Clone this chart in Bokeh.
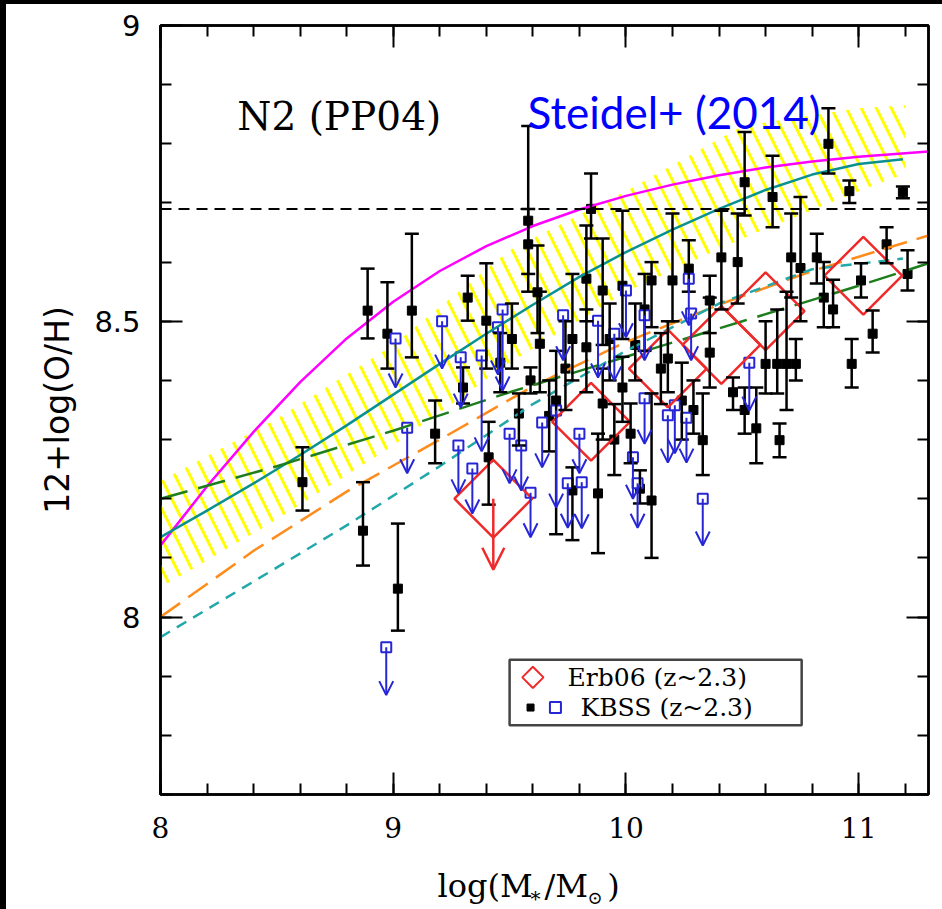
import numpy as np
from bokeh.plotting import figure
from bokeh.layouts import row, column
from bokeh.models import (ColumnDataSource, Whisker, TeeHead, Arrow, OpenHead, Label,
                          BoxAnnotation, LinearAxis, SingleIntervalTicker, Range1d, Span,
                          CustomJSTickFormatter, Spacer)
from bokeh.core.properties import value
from bokeh.embed import file_html
from bokeh.resources import INLINE

# ---------------- data ----------------
# hatched band (Steidel+14 local relation range)
band_x = [8.0, 8.5, 9.0, 9.5, 10.0, 10.5, 11.0, 11.2]
band_lo = [8.05, 8.165, 8.29, 8.43, 8.55, 8.64, 8.72, 8.75]
band_hi = [8.23, 8.335, 8.46, 8.62, 8.72, 8.83, 8.86, 8.865]

# magenta solid curve
mag_x = [8.0, 8.2, 8.4, 8.6, 8.8, 9.0, 9.2, 9.4, 9.6, 9.8, 10.0, 10.2, 10.4, 10.6, 10.8, 11.0, 11.2, 11.3]
mag_y = [8.121, 8.221, 8.313, 8.397, 8.471, 8.533, 8.585, 8.627, 8.661, 8.689, 8.712, 8.731, 8.747, 8.760,
         8.770, 8.778, 8.784, 8.787]

# teal solid curve
teal_x = [8.0, 8.2, 8.4, 8.6, 8.8, 9.0, 9.2, 9.4, 9.6, 9.8, 10.0, 10.2, 10.4, 10.6, 10.8, 11.0, 11.19]
teal_y = [8.135, 8.18, 8.226, 8.274, 8.324, 8.376, 8.428, 8.479, 8.528, 8.575, 8.617, 8.655, 8.69, 8.722,
          8.748, 8.766, 8.774]

# orange long-dashed curve
orange_x = [8.0, 8.4, 8.8, 9.2, 9.6, 10.0, 10.4, 10.8, 11.3]
orange_y = [8.0, 8.112, 8.212, 8.30, 8.39, 8.465, 8.528, 8.585, 8.645]

# teal short-dashed curve
tdash_x = [8.0, 8.4, 8.8, 9.2, 9.6, 10.0, 10.4, 10.8, 11.19]
tdash_y = [7.966, 8.06, 8.155, 8.255, 8.36, 8.45, 8.53, 8.588, 8.606]

# green long-dashed curve
green_x = [8.0, 8.5, 9.0, 9.5, 10.0, 10.5, 11.0, 11.3]
green_y = [8.20, 8.255, 8.315, 8.38, 8.44, 8.50, 8.56, 8.598]

solar_oh = 8.69

# KBSS detections (black squares with error bars)
kbss_x = [8.61, 8.87, 8.89, 8.975, 9.02, 9.08, 9.18, 9.30, 9.32, 9.40, 9.41, 9.46, 9.51, 9.54, 9.58, 9.58,
          9.59, 9.62, 9.63, 9.67, 9.70, 9.74, 9.77, 9.77, 9.83, 9.83, 9.85, 9.88, 9.90, 9.90, 9.93, 9.95,
          9.985, 9.985, 10.02, 10.04, 10.06, 10.08, 10.11, 10.11, 10.15, 10.18, 10.20, 10.24, 10.27, 10.29,
          10.33, 10.36, 10.36, 10.41, 10.46, 10.48, 10.51, 10.51, 10.56, 10.60, 10.63, 10.65, 10.66, 10.69,
          10.71, 10.73, 10.75, 10.82, 10.85, 10.87, 10.89, 10.96, 10.97, 11.01, 11.06, 11.12, 11.19, 11.21]
kbss_y = [8.228, 8.146, 8.518, 8.479, 8.048, 8.518, 8.310, 8.388, 8.540, 8.501, 8.270, 8.430, 8.470, 8.344,
          8.670, 8.630, 8.400, 8.549, 8.462, 8.340, 8.366, 8.420, 8.470, 8.214, 8.572, 8.456, 8.690, 8.209,
          8.552, 8.361, 8.470, 8.300, 8.560, 8.388, 8.310, 8.460, 8.217, 8.520, 8.197, 8.569, 8.420, 8.437,
          8.569, 8.366, 8.589, 8.350, 8.299, 8.447, 8.535, 8.608, 8.380, 8.600, 8.350, 8.735, 8.319, 8.428,
          8.710, 8.428, 8.299, 8.428, 8.608, 8.428, 8.590, 8.608, 8.540, 8.800, 8.520, 8.720, 8.428, 8.569,
          8.479, 8.630, 8.718, 8.580]
kbss_lo = [8.180, 8.087, 8.471, 8.420, 7.977, 8.439, 8.260, 8.361, 8.501, 8.420, 8.190, 8.380, 8.420, 8.290,
           8.580, 8.550, 8.378, 8.480, 8.380, 8.280, 8.140, 8.350, 8.400, 8.130, 8.500, 8.380, 8.640, 8.108,
           8.460, 8.300, 8.400, 8.240, 8.470, 8.330, 8.260, 8.400, 8.192, 8.450, 8.100, 8.490, 8.360, 8.380,
           8.500, 8.300, 8.550, 8.310, 8.240, 8.388, 8.480, 8.520, 8.350, 8.530, 8.310, 8.679, 8.260, 8.378,
           8.659, 8.378, 8.270, 8.350, 8.540, 8.400, 8.500, 8.564, 8.490, 8.750, 8.490, 8.700, 8.388, 8.540,
           8.447, 8.598, 8.708, 8.552]
kbss_hi = [8.287, 8.228, 8.589, 8.566, 8.158, 8.648, 8.366, 8.422, 8.577, 8.598, 8.330, 8.480, 8.530, 8.378,
           8.830, 8.690, 8.422, 8.628, 8.550, 8.400, 8.450, 8.500, 8.580, 8.253, 8.662, 8.520, 8.750, 8.310,
           8.640, 8.420, 8.530, 8.360, 8.687, 8.440, 8.361, 8.530, 8.248, 8.580, 8.378, 8.600, 8.480, 8.500,
           8.682, 8.430, 8.637, 8.400, 8.378, 8.540, 8.577, 8.687, 8.405, 8.682, 8.388, 8.820, 8.388, 8.500,
           8.780, 8.520, 8.327, 8.550, 8.682, 8.470, 8.710, 8.648, 8.600, 8.860, 8.570, 8.738, 8.470, 8.598,
           8.518, 8.659, 8.728, 8.620]

# KBSS upper limits (blue open squares with arrows)
lim_x = [8.97, 9.01, 9.06, 9.21, 9.28, 9.29, 9.34, 9.38, 9.45, 9.47, 9.50, 9.55, 9.59, 9.64, 9.70, 9.73,
         9.75, 9.80, 9.81, 9.88, 9.95, 10.00, 10.03, 10.05, 10.08, 10.08, 10.18, 10.21, 10.26, 10.27, 10.28,
         10.33, 10.53]
lim_y = [7.949, 8.471, 8.320, 8.500, 8.290, 8.439, 8.251, 8.442, 8.490, 8.520, 8.310, 8.290, 8.210, 8.329,
         8.349, 8.510, 8.226, 8.310, 8.228, 8.501, 8.479, 8.552, 8.270, 8.226, 8.510, 8.370, 8.341, 8.358,
         8.337, 8.572, 8.513, 8.200, 8.430]
lim_end = [7.868, 8.388, 8.243, 8.420, 8.209, 8.354, 8.175, 8.280, 8.410, 8.383, 8.226, 8.214, 8.135, 8.253,
           8.185, 8.434, 8.151, 8.243, 8.150, 8.405, 8.400, 8.473, 8.200, 8.151, 8.434, 8.293, 8.261, 8.277,
           8.261, 8.493, 8.434, 8.121, 8.349]

# Erb06 stacks (red diamonds); first one is an upper limit
erb_x = [9.43, 9.85, 10.18, 10.41, 10.60, 11.02]
erb_y = [8.20, 8.33, 8.42, 8.46, 8.517, 8.577]
erb_lim_x = [9.43]
erb_lim_y = [8.20]
erb_lim_end = [8.08]

# tick settings
x_major = 1.0
y_major = 0.5

# ---------------- figure ----------------
BLUE = "#2626D6"
RED = "#EE2A2A"
W = 936

p = figure(width=W, height=855, output_backend="svg", toolbar_location=None,
           x_range=Range1d(8.0, 11.3), y_range=Range1d(7.7, 9.0),
           min_border_left=154, min_border_right=14, min_border_top=21, min_border_bottom=65)
p.grid.visible = False
p.outline_line_color = "black"
p.outline_line_width = 2.5
p.background_fill_color = "white"
p.border_fill_color = "white"

fmt = CustomJSTickFormatter(code="return tick.toString();")
blank = CustomJSTickFormatter(code="return '';")

def style_axis(ax, ticker, labels=True):
    ax.ticker = ticker
    ax.axis_line_color = "black"
    ax.axis_line_width = 2.5
    ax.major_tick_in = 22
    ax.major_tick_out = 0
    ax.minor_tick_in = 11
    ax.minor_tick_out = 0
    ax.major_tick_line_width = 2
    ax.minor_tick_line_width = 2
    ax.major_tick_line_color = "black"
    ax.minor_tick_line_color = "black"
    ax.formatter = fmt if labels else blank
    if not labels:
        ax.major_label_standoff = 0
        ax.major_label_text_font_size = "10px"

xt = SingleIntervalTicker(interval=x_major, num_minor_ticks=5)
yt = SingleIntervalTicker(interval=y_major, num_minor_ticks=5)

style_axis(p.xaxis[0], xt)
style_axis(p.yaxis[0], yt)
p.xaxis.major_label_text_font = "DejaVu Serif"
p.xaxis.major_label_text_font_size = "28px"
p.xaxis.major_label_text_color = "black"
p.xaxis.major_label_standoff = 22
p.yaxis.major_label_text_font = "DejaVu Sans"
p.yaxis.major_label_text_font_size = "29px"
p.yaxis.major_label_text_color = "black"
p.yaxis.major_label_standoff = 20
p.yaxis.axis_label = "12+log(O/H)"
p.yaxis.axis_label_text_font = "DejaVu Sans"
p.yaxis.axis_label_text_font_size = "33px"
p.yaxis.axis_label_text_font_style = "normal"
p.yaxis.axis_label_text_color = "black"
p.yaxis.axis_label_standoff = 14

top = LinearAxis()
style_axis(top, SingleIntervalTicker(interval=x_major, num_minor_ticks=5), labels=False)
p.add_layout(top, "above")
right = LinearAxis()
style_axis(right, SingleIntervalTicker(interval=y_major, num_minor_ticks=5), labels=False)
p.add_layout(right, "right")

# hatched band
p.varea(x=band_x, y1=band_lo, y2=band_hi, fill_alpha=0, hatch_pattern="left_diagonal_line",
        hatch_color="#FFFF00", hatch_scale=30, hatch_weight=3)

# solar line
p.add_layout(Span(location=solar_oh, dimension="width", line_color="black", line_width=2,
                  line_dash="11 7"))

# black points with error bars
ksrc = ColumnDataSource(dict(x=kbss_x, y=kbss_y, lo=kbss_lo, hi=kbss_hi))
wh = Whisker(source=ksrc, base="x", upper="hi", lower="lo", dimension="height",
             line_color="black", line_width=2.5, level="glyph",
             upper_head=TeeHead(size=14, line_width=2.5, line_color="black"),
             lower_head=TeeHead(size=14, line_width=2.5, line_color="black"))
p.add_layout(wh)
p.scatter("x", "y", source=ksrc, marker="square", size=9, fill_color="black", line_color="black")

# blue upper limits
lsrc = ColumnDataSource(dict(x=lim_x, y=lim_y, end=lim_end))
p.add_layout(Arrow(source=lsrc, x_start="x", y_start="y", x_end="x", y_end="end",
                   line_color=BLUE, line_width=2, level="glyph",
                   end=OpenHead(size=14, line_color=BLUE, line_width=2)))
p.scatter("x", "y", source=lsrc, marker="square", size=10, fill_color="white", line_color=BLUE,
          line_width=2)

# model curves
p.line(mag_x, mag_y, line_color="#FF00FF", line_width=2.5)
p.line(teal_x, teal_y, line_color="#0B9090", line_width=2.5)
p.line(orange_x, orange_y, line_color="#FF8C1A", line_width=2.5, line_dash="24 10")
p.line(tdash_x, tdash_y, line_color="#22A8A8", line_width=2.5, line_dash="11 8")
p.line(green_x, green_y, line_color="#1E7E1E", line_width=2.5, line_dash="28 11")

# Erb06 diamonds
p.scatter(erb_x, erb_y, marker="square", angle=np.pi / 4, size=55, fill_alpha=0,
          line_color=RED, line_width=2.5)
esrc = ColumnDataSource(dict(x=erb_lim_x, y=erb_lim_y, end=erb_lim_end))
p.add_layout(Arrow(source=esrc, x_start="x", y_start="y", x_end="x", y_end="end",
                   line_color=RED, line_width=2.5,
                   end=OpenHead(size=22, line_color=RED, line_width=2.5)))

# legend (drawn by hand)
p.add_layout(BoxAnnotation(left=9.50, right=10.755, bottom=7.817, top=7.928, fill_alpha=0,
                           line_color="#444444", line_width=2.5, line_alpha=1))
p.scatter([9.60], [7.898], marker="square", angle=np.pi / 4, size=15, fill_alpha=0,
          line_color=RED, line_width=2)
p.scatter([9.59], [7.847], marker="square", size=7, fill_color="black", line_color="black")
p.scatter([9.697], [7.847], marker="square", size=11, fill_color="white", line_color=BLUE, line_width=2)
for txt, lx, ly in [("Erb06 (z~2.3)", 9.749, 7.898), ("KBSS (z~2.3)", 9.805, 7.847)]:
    p.add_layout(Label(x=lx, y=ly, text=txt, text_font="DejaVu Serif", text_font_size="25px",
                       text_color="black", text_baseline="middle", text_align="left"))

# panel texts
p.add_layout(Label(x=8.33, y=8.846, text="N2 (PP04)", text_font="DejaVu Serif", text_font_size="39px",
                   text_color="black", text_baseline="alphabetic"))
p.add_layout(Label(x=9.577, y=8.853, text="Steidel+ (2014)", text_font="Lato", text_font_size="44px",
                   text_color="#0000FF", text_baseline="alphabetic"))

# ---------------- x-axis title strip (with subscripts) ----------------
p2 = figure(width=W, height=50, output_backend="svg", toolbar_location=None,
            x_range=p.x_range, y_range=Range1d(0, 50),
            min_border_left=154, min_border_right=14, min_border_top=0, min_border_bottom=0)
p2.axis.visible = False
p2.grid.visible = False
p2.outline_line_color = None
p2.border_fill_color = "white"
p2.background_fill_color = "white"
for txt, lx, ly, fs in [("log(M", 9.190, 24, "32px"), ("*", 9.590, 11, "20px"),
                        ("/M", 9.650, 24, "32px"), ("⊙", 9.835, 12, "18px"),
                        (")", 9.92, 24, "32px")]:
    p2.text(x=[lx], y=[ly], text=[txt], text_font=value("DejaVu Serif"), text_font_size=value(fs),
            text_color="black", text_baseline="alphabetic", text_align="left")

black_left = Spacer(width=6, height=909, styles={"background-color": "black"})
black_top = Spacer(width=W, height=4, styles={"background-color": "black"})
layout = row(black_left, column(black_top, p, p2))

html = file_html(layout, INLINE)
open("out.html", "w").write(html)
